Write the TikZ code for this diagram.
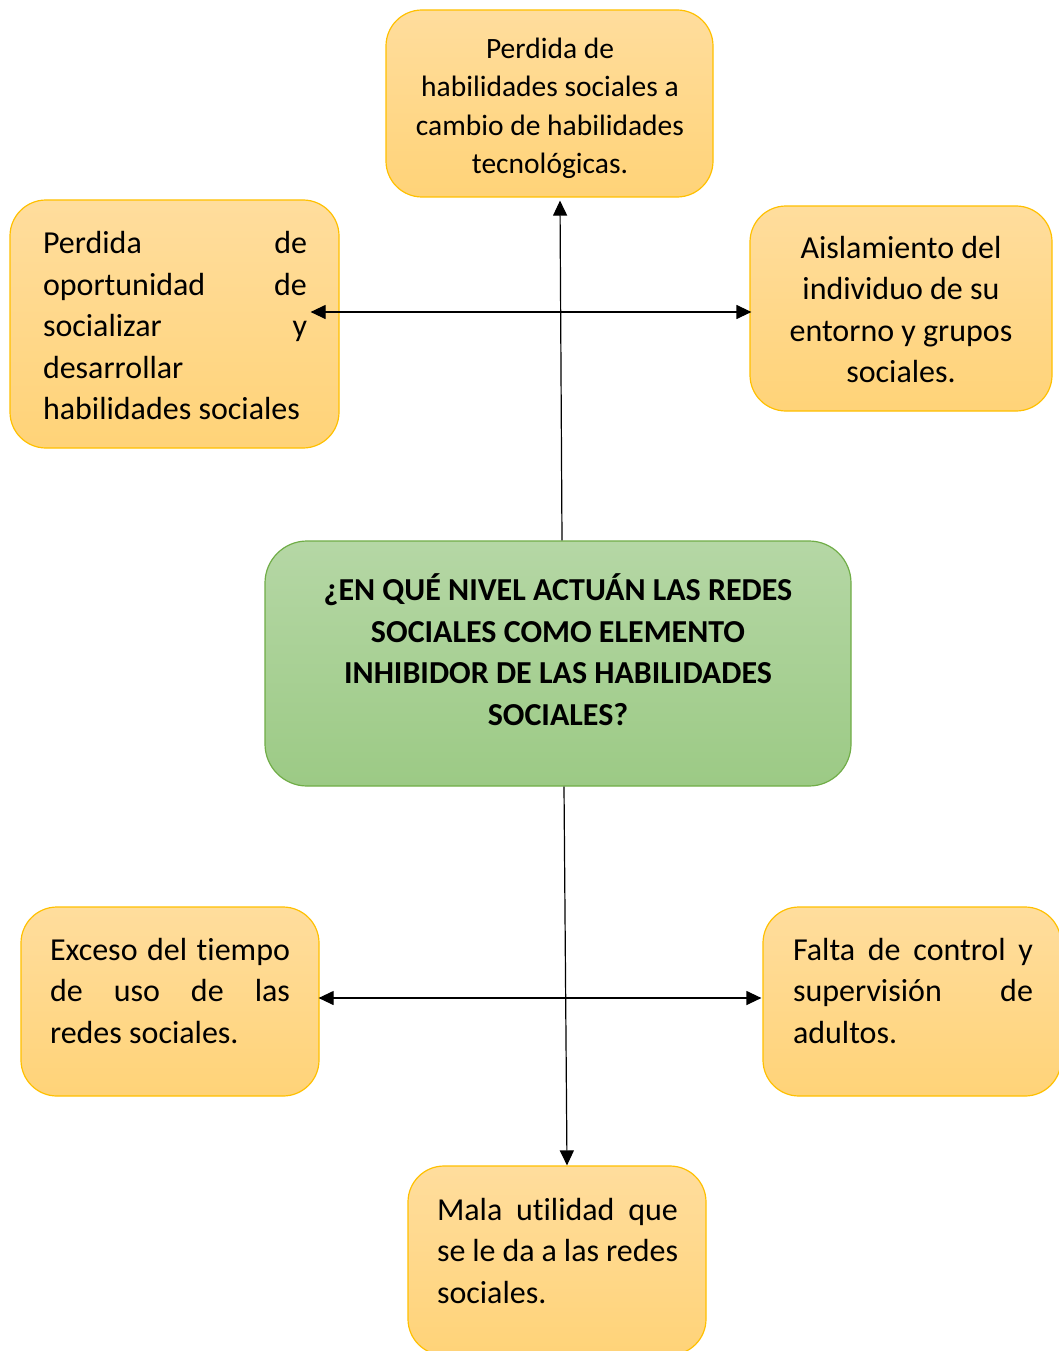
\documentclass[tikz,border=0pt]{standalone}
\usepackage{fontspec}
\setmainfont{Carlito}[Ligatures={NoCommon}]
\usetikzlibrary{arrows.meta}
\definecolor{otop}{HTML}{FFDD9D}
\definecolor{obot}{HTML}{FFD378}
\definecolor{oline}{HTML}{FFC000}
\definecolor{gtop}{HTML}{B5D7A5}
\definecolor{gbot}{HTML}{9CCA85}
\definecolor{gline}{HTML}{70AD47}
\tikzset{
  obox/.style={draw=oline, line width=1.2pt, rounded corners=36pt, top color=otop, bottom color=obot, inner sep=0pt},
  gbox/.style={draw=gline, line width=1.2pt, rounded corners=42pt, top color=gtop, bottom color=gbot, inner sep=0pt},
  txt/.style={font=\fontsize{29.5}{38.5}\selectfont, inner sep=0pt, align=center},
  jtxt/.style={font=\fontsize{32}{41.5}\selectfont, inner sep=0pt, align=left},
  btxt/.style={font=\fontsize{32}{41.5}\selectfont\bfseries, inner sep=0pt, align=center},
  conn/.style={line width=1.2pt, -{Triangle[length=15pt,width=14pt]}},
  dconn/.style={line width=1.2pt, {Triangle[length=15pt,width=14pt]}-{Triangle[length=15pt,width=14pt]}},
}
\begin{document}
\begin{tikzpicture}[x=1pt,y=-1pt]
\clip (0,0) rectangle (1059,1351);
\fill[white] (0,0) rectangle (1059,1351);
% boxes
\node[obox, minimum width=327pt, minimum height=187pt] (top) at (549.5,103.5) {};
\node[obox, minimum width=329pt, minimum height=248pt] (lt) at (174.5,324) {};
\node[obox, minimum width=302pt, minimum height=205pt] (rt) at (901,308.5) {};
\node[gbox, minimum width=586pt, minimum height=245pt] (cen) at (558,663.5) {};
\node[obox, minimum width=298pt, minimum height=189pt] (bl) at (170,1001.5) {};
\node[obox, minimum width=298pt, minimum height=189pt] (br) at (912,1001.5) {};
\node[obox, minimum width=298pt, minimum height=189pt] (bot) at (557,1260.5) {};
% texts
\node[txt] (ttop) at (550,108.5) {Perdida de\\habilidades sociales a\\cambio de habilidades\\tecnológicas.};
\node[jtxt] (tlt) at (175,326) {\hbox to 264pt{Perdida\hfill de}\\\hbox to 264pt{oportunidad\hfill de}\\\hbox to 264pt{socializar\hfill y}\\desarrollar\\habilidades sociales};
\node[jtxt, align=center] (trt) at (901,309.5) {Aislamiento del\\individuo de su\\entorno y grupos\\sociales.};
\node[btxt] (tcen) at (558,649.5) {¿EN QUÉ NIVEL ACTUÁN LAS REDES\\SOCIALES COMO ELEMENTO\\INHIBIDOR DE LAS HABILIDADES\\SOCIALES?};
\node[jtxt] (tbl) at (170,991) {\hbox to 240pt{Exceso del tiempo}\\\hbox to 240pt{de\hfill uso\hfill de\hfill las}\\redes sociales.};
\node[jtxt] (tbr) at (913,991) {\hbox to 240pt{Falta de control y}\\\hbox to 240pt{supervisión\hfill de}\\adultos.};
\node[jtxt] (tbot) at (557.5,1250.5) {\hbox to 241pt{Mala utilidad que}\\\hbox to 241pt{se le da a las redes}\\sociales.};
% connectors
\draw[conn] ([xshift=4pt]cen.north) -- ([xshift=10.5pt,yshift=-3pt]top.south);
\draw[dconn] ([xshift=-29pt,yshift=12pt]lt.east) -- ([xshift=2pt,yshift=-3.5pt]rt.west);
\draw[conn] ([xshift=6pt]cen.south) -- ([xshift=10pt]bot.north);
\draw[dconn] ([xshift=-1pt,yshift=3.5pt]bl.east) -- ([xshift=-1pt,yshift=3.5pt]br.west);
\end{tikzpicture}
\end{document}
